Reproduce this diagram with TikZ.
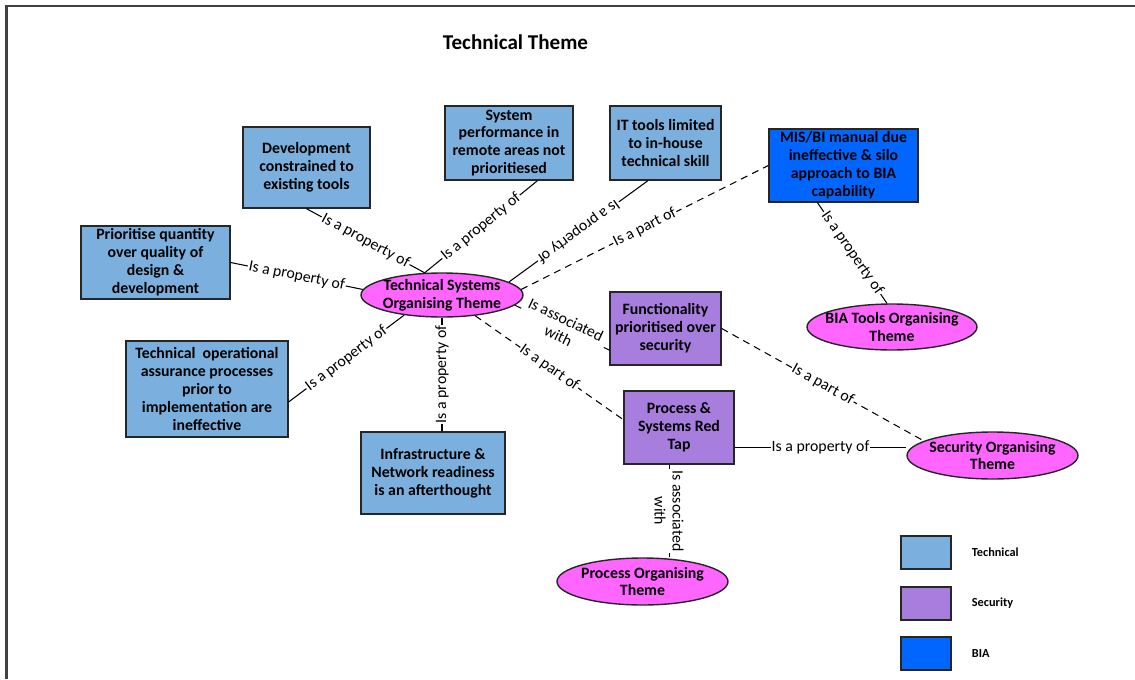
\documentclass[tikz,border=0pt]{standalone}
\usepackage{fontspec}
\setmainfont{Carlito}
\usetikzlibrary{positioning,shapes.geometric}

\definecolor{techblue}{RGB}{123,176,222}
\definecolor{secpurple}{RGB}{167,125,221}
\definecolor{biablue}{RGB}{0,102,255}
\definecolor{orgpink}{RGB}{255,102,255}

\begin{document}
\begin{tikzpicture}[x=0.02cm,y=-0.02cm,
  theme/.style={draw=black!85,line width=0.8pt,align=center,inner sep=1pt,
    font=\fontsize{9}{10.2}\selectfont\bfseries},
  tech/.style={theme,fill=techblue},
  sec/.style={theme,fill=secpurple},
  bia/.style={theme,fill=biablue},
  org/.style={theme,ellipse,fill=orgpink,inner sep=-8pt},
  rel/.style={line width=0.6pt},
  part/.style={rel,dash pattern=on 4pt off 3pt},
  lbl/.style={midway,sloped,fill=white,inner sep=0.6pt,align=center,
    font=\fontsize{9}{10.2}\selectfont}]
  \useasboundingbox (0,0) rectangle (1135,679);
  \draw[black!75,line width=1.2pt] (6.5,679) -- (6.5,6) -- (1135,6);

  \node[font=\fontsize{12}{14}\selectfont\bfseries] (title) at (515.5,42) {Technical Theme};

  % organising themes
  \node[org,minimum width=3.24cm,minimum height=0.88cm] (tso) at (442,295) {Technical Systems\\Organising Theme};
  \node[org,minimum width=3.4cm,minimum height=0.92cm] (biaorg) at (892,327) {BIA Tools Organising\\Theme};
  \node[org,minimum width=3.42cm,minimum height=0.94cm] (secorg) at (992.5,455.5) {Security Organising\\Theme};
  \node[org,minimum width=3.42cm,minimum height=0.94cm] (procorg) at (642.5,581.5) {Process Organising\\Theme};

  % codes
  \node[tech,minimum width=2.54cm,minimum height=1.62cm] (dev) at (306.5,167.5) {Development\\constrained to\\existing tools};
  \node[tech,minimum width=2.56cm,minimum height=1.48cm] (sysperf) at (509,143) {System\\performance in\\remote areas not\\prioritiesed};
  \node[tech,minimum width=2.22cm,minimum height=1.48cm] (ittools) at (665.5,143) {IT tools limited\\to in-house\\technical skill};
  \node[bia,minimum width=2.98cm,minimum height=1.46cm] (misbi) at (843.5,165.5) {MIS/BI manual due\\ineffective \& silo\\approach to BIA\\capability};
  \node[tech,minimum width=2.98cm,minimum height=1.46cm] (prio) at (155.5,262.5) {Prioritise quantity\\over quality of\\design \&\\development};
  \node[tech,minimum width=3.24cm,minimum height=1.92cm] (techop) at (207,389) {Technical~ operational\\assurance processes\\prior to\\implementation are\\ineffective};
  \node[tech,minimum width=2.88cm,minimum height=1.64cm] (infra) at (433,473) {Infrastructure \&\\Network readiness\\is an afterthought};
  \node[sec,minimum width=2.22cm,minimum height=1.46cm] (func) at (665.5,328.5) {Functionality\\prioritised over\\security};
  \node[sec,minimum width=2.2cm,minimum height=1.46cm] (redtap) at (679,427.5) {Process \&\\Systems Red\\Tap};

  % relations
  \draw[rel] (dev.south) -- (tso.128) node[lbl] {Is a property of};
  \draw[rel] (sysperf.-53) -- (tso.128) node[lbl] {Is a property of};
  \draw[rel] (ittools.245) -- (tso.11) node[lbl,allow upside down] {Is a property of};
  \draw[rel] (prio.east) -- (tso.176) node[lbl] {Is a property of};
  \draw[rel] (techop.-9) -- (tso.208) node[lbl] {Is a property of};
  \draw[rel] (infra.north -| tso.south) -- (tso.south) node[lbl] {Is a property of};
  \draw[part] (tso.4) -- (misbi.west) node[lbl] {Is a part of};
  \draw[part] (tso.-8) -- (func.201) node[lbl] {Is associated\\with};
  \draw[part] (tso.-32) -- (redtap.172) node[lbl] {Is a part of};
  \draw[rel] (misbi.235) -- (biaorg.102) node[lbl] {Is a property of};
  \draw[part] (func.east) -- (secorg.168) node[lbl] {Is a part of};
  \draw[rel] (redtap.-20) -- (redtap.-20 -| secorg.west) node[lbl] {Is a property of};
  \draw[rel] (redtap.-105) -- (redtap.-105 |- procorg.north) node[lbl] {Is associated\\with};

  % key
  \foreach \y/\c/\t/\n in {552.5/techblue/Technical/1,603.5/secpurple/Security/2,653.5/biablue/BIA/3} {
    \node[draw=black!85,line width=0.8pt,fill=\c,minimum width=1cm,minimum height=0.66cm] (key\n) at (926,\y) {};
    \node[right=0.28cm of key\n,font=\fontsize{7}{8}\selectfont\bfseries] (keytext\n) {\t};
  }
\end{tikzpicture}
\end{document}
